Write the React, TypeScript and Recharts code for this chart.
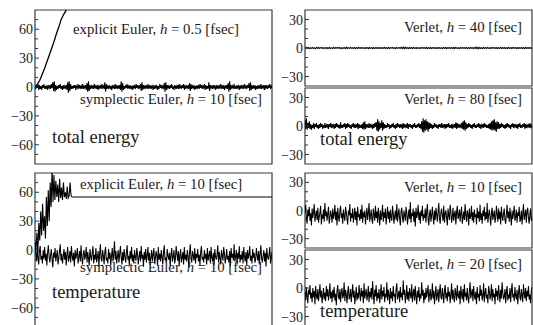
import React from 'react';
import { LineChart, Line, XAxis, YAxis, ReferenceArea } from 'recharts';

const FONT = '"Liberation Serif", "Times New Roman", serif';

// total energy, explicit Euler h=0.5 (time, value)
const explicitEnergyT = [0, 10, 20, 30, 40, 50, 60, 70, 80, 90, 100, 110, 120, 130, 140, 150];
const explicitEnergyV = [0, 3, 7, 13, 19, 26, 33, 40, 47, 55, 62, 70, 75, 79, 84, 88];

// total energy, symplectic Euler h=10
const symplecticEnergy = [
  1,-2,2,-1,3,-3,2,-2,1,-3,2,-1,3,-2,1,-2,2,-3,1,-1,
  2,-2,3,-1,5,-4,6,-5,2,-3,1,-2,2,-1,3,-2,1,-3,2,-2,
  1,-1,2,-3,5,-6,6,-4,3,-2,1,-2,2,-1,2,-3,1,-1,3,-2,
  2,-1,1,-2,3,-2,1,-1,2,-3,4,-5,6,-4,2,-2,1,-1,2,-2,
  3,-1,1,-2,2,-3,1,-1,2,-2,3,-1,1,-2,5,-5,3,-2,1,-1,
  2,-2,1,-3,2,-1,1,-2,3,-2,2,-1,1,-2,2,-3,6,-5,4,-3,
  1,-2,2,-1,3,-2,1,-1,2,-2,1,-3,2,-1,1,-2,3,-1,2,-2,
  1,-1,3,-4,5,-3,2,-2,1,-1,2,-2,3,-1,1,-2,2,-1,1,-3,
  2,-2,1,-1,2,-3,1,-2,3,-1,2,-2,1,-1,4,-5,5,-3,2,-1,
  1,-2,2,-1,3,-2,1,-3,2,-1,1,-2,2,-2,3,-1,1,-2,2,-1,
  3,-3,2,-2,1,-1,2,-2,4,-4,3,-2,1,-1,2,-3,1,-2,2,-1,
  1,-2,3,-1,2,-2,1,-1,3,-3,2,-2,1,-2,5,-4,2,-1,1,-2,
  2,-1,1,-3,2,-2,1,-1,2,-2,3,-1,1,-2,2,-3,1,-1,2,-2,
  4,-5,6,-3,2,-2,1,-1,3,-2,1,-2,2,-1,1,-3,2,-2,1,-1,
  2,-2,3,-1,1,-2,2,-1,4,-4,5,-3,2,-2,1,-1,2,-3,1,-2,
  2,-1,1,-2,3,-2,1,-1,2,-3,2,-1,1,-2,2,-1,3,-2,1,-1,
];

// temperature, explicit Euler h=10 (time, value)
const explicitTempT = [0,4,8,12,16,20,24,28,32,36,40,44,48,52,56,60,64,68,72,76,80,84,88,92,96,100,104,108,112,116,120,124,128,132,136,140,144,148,152,156,160,164,168,172,1000];
const explicitTempV = [8,0,18,-4,28,10,40,15,48,20,35,12,55,25,62,30,70,45,85,50,78,52,72,55,68,50,74,54,65,52,70,55,60,53,66,54,56,70,57,55,55,55,55,55,55];

// temperature, symplectic Euler h=10
const symplecticTemp = [
  8,-3,-12,2,-8,-15,-1,4,-10,-6,-14,0,-9,3,-11,-4,-16,-2,5,-7,
  -13,-5,1,-10,-18,-3,-8,2,-12,-6,0,-15,-9,-1,6,-11,-4,-14,-7,1,
  -10,-2,-16,-5,3,-12,-8,-1,-13,4,-6,-11,-3,-17,0,-9,-5,2,-14,-7,
  -1,-12,5,-8,-15,-4,0,-10,-6,3,-13,-2,-9,-16,1,-7,-11,-3,4,-14,
  -5,-10,2,-13,-7,-1,-17,-4,6,-9,-12,0,-6,-15,-2,3,-11,-8,-14,1,
  -9,-3,-16,-6,2,-12,-5,9,-10,-1,-14,-7,0,-13,-4,4,-8,-15,-2,-11,
  1,-7,-13,-3,5,-10,-6,-16,-1,-9,3,-12,-5,-14,0,-8,-11,2,-4,-15,
  -7,-1,-12,4,-9,-5,-17,-2,-10,1,-13,-6,3,-11,-3,-15,-8,0,-12,-5,
  2,-14,-9,-1,-6,-16,3,-10,-4,-12,0,-7,-15,-2,5,-11,-8,-13,1,-6,
  -10,-3,-17,-5,2,-12,-7,0,-14,-9,4,-4,-11,-1,-16,-6,1,-13,-8,-2,
  -15,3,-10,-5,-12,0,-7,-18,-3,6,-9,-13,-1,-6,-11,2,-14,-4,-8,1,
  -12,-5,-16,-2,4,-10,-7,-13,0,-9,-4,-15,2,-11,-6,-1,-14,3,-8,-12,
  -3,-16,1,-7,-10,-5,5,-13,-2,-9,-15,0,-6,-11,3,-4,-14,-8,1,-10,
  -6,-13,-1,-17,2,-8,-4,-11,6,-12,-7,0,-15,-3,-9,4,-13,-5,-10,-1,
  -14,3,-7,-12,-2,-16,0,-9,-5,4,-11,-6,-14,1,-8,-3,-13,-10,2,-6,
  -11,-1,-15,-4,5,-9,-13,-6,0,-12,-3,-17,2,-7,-10,-5,3,-14,-8,-2,
];

// Verlet total energy h=40
const verlet40 = [
  0.5,-0.5,0.8,-0.3,0.4,-0.7,0.3,-0.4,0.6,-0.5,0.2,-0.6,0.5,-0.3,0.7,-0.5,0.4,-0.2,0.5,-0.6,
  0.3,-0.4,0.6,-0.7,0.4,-0.3,0.5,-0.5,0.2,-0.4,0.7,-0.6,0.3,-0.2,0.5,-0.4,0.6,-0.5,0.3,-0.7,
  0.4,-0.3,0.5,-0.6,0.8,-0.5,0.3,-0.4,0.6,-0.3,0.4,-0.6,0.5,-0.4,0.3,-0.5,0.7,-0.3,0.4,-0.5,
  0.6,-0.4,0.3,-0.6,0.5,-0.3,0.4,-0.7,0.6,-0.4,0.3,-0.5,0.5,-0.6,0.4,-0.3,0.6,-0.5,0.3,-0.4,
  0.5,-0.6,0.4,-0.3,0.7,-0.5,0.3,-0.4,0.5,-0.6,0.4,-0.2,0.6,-0.5,0.3,-0.6,0.5,-0.4,0.4,-0.3,
  0.6,-0.5,0.9,-0.8,1,-0.7,0.6,-0.5,0.4,-0.6,0.5,-0.3,0.4,-0.5,0.6,-0.4,0.3,-0.5,0.5,-0.4,
  0.3,-0.6,0.5,-0.4,0.6,-0.3,0.4,-0.5,0.7,-0.6,0.3,-0.4,0.5,-0.5,0.4,-0.3,0.6,-0.6,0.4,-0.5,
  0.5,-0.3,0.4,-0.6,0.3,-0.5,0.6,-0.4,0.5,-0.7,0.4,-0.3,0.6,-0.5,0.3,-0.4,0.5,-0.6,0.7,-0.4,
  0.4,-0.5,0.3,-0.6,0.5,-0.4,0.6,-0.3,0.4,-0.5,0.6,-0.6,0.3,-0.4,0.5,-0.3,0.4,-0.6,0.5,-0.5,
  0.8,-0.7,0.6,-0.9,0.7,-0.5,0.4,-0.6,0.5,-0.3,0.4,-0.5,0.6,-0.4,0.3,-0.6,0.5,-0.4,0.6,-0.3,
  0.4,-0.5,0.5,-0.6,0.3,-0.4,0.6,-0.5,0.4,-0.3,0.5,-0.6,0.4,-0.5,0.6,-0.4,0.3,-0.5,0.5,-0.4,
  0.6,-0.3,0.4,-0.6,0.5,-0.5,0.3,-0.4,0.6,-0.5,0.4,-0.6,0.5,-0.3,0.4,-0.5,0.6,-0.4,0.3,-0.5,
];

// Verlet total energy h=80
const verlet80 = [
  6,-3,8,-4,3,-2,5,-3,2,-4,1,-2,3,-3,2,-1,3,-2,1,-3,
  2,-2,3,-1,2,-3,1,-2,3,-2,1,-1,2,-3,2,-1,3,-2,2,-1,
  1,-3,2,-2,3,-1,2,-2,1,-3,4,-2,1,-2,2,-1,3,-3,2,-2,
  3,-1,2,-2,1,-3,2,-1,3,-2,2,-2,1,-1,3,-3,2,-2,1,-2,
  2,-3,4,-4,5,-3,2,-1,1,-2,3,-2,2,-1,1,-3,2,-2,3,-1,
  4,-5,7,-6,5,-4,3,-2,6,-5,4,-3,2,-2,1,-2,3,-1,2,-3,
  1,-2,2,-1,3,-2,1,-3,2,-2,3,-1,2,-2,1,-1,2,-3,3,-2,
  2,-1,1,-2,3,-3,2,-1,2,-2,1,-3,2,-1,3,-2,1,-2,2,-1,
  3,-2,2,-3,5,-6,8,-7,6,-5,7,-4,5,-6,4,-3,3,-2,2,-3,
  1,-2,3,-1,2,-2,1,-3,2,-1,2,-2,3,-2,1,-1,2,-3,2,-2,
  2,-1,3,-2,1,-2,2,-3,1,-1,2,-2,4,-3,3,-2,2,-1,1,-2,
  3,-3,5,-4,6,-5,4,-3,2,-2,3,-1,2,-2,1,-3,2,-1,3,-2,
  1,-2,2,-1,3,-2,2,-3,1,-1,2,-2,3,-1,2,-2,1,-2,2,-3,
  3,-4,5,-5,6,-4,7,-5,4,-6,5,-3,4,-3,2,-2,3,-1,2,-2,
  1,-3,2,-2,3,-1,2,-2,1,-3,2,-1,3,-2,2,-1,1,-2,2,-3,
  2,-1,3,-2,1,-2,2,-1,3,-3,2,-2,1,-1,2,-2,3,-1,1,-2,
];

// Verlet temperature h=10
const verlet10 = [
  -2,6,-9,-14,1,-6,4,-11,-3,-16,2,-8,-1,7,-12,-5,0,-10,3,-13,
  -7,-2,5,-15,-4,-9,1,-12,8,-6,-1,-11,-3,4,-14,-8,0,-5,-13,2,
  -9,-4,6,-10,-1,-16,3,-7,-12,0,5,-8,-3,-14,1,-6,-11,4,-2,-9,
  -15,0,-5,7,-12,-3,-8,2,-13,-6,3,-10,-1,-16,4,-7,-4,-11,1,-9,
  6,-13,-2,-7,0,-15,-5,3,-10,-3,8,-12,-6,1,-9,-14,2,-4,-11,5,
  -8,-1,-13,3,-6,-16,0,-10,-4,6,-12,-2,-8,2,-15,-5,4,-9,-1,-13,
  1,-7,-11,5,-3,-14,-6,0,-10,7,-12,-4,2,-9,-16,-1,3,-8,-13,0,
  -5,-11,4,-2,-15,-7,1,-9,9,-13,-3,-6,2,-12,-1,-17,3,-8,-4,6,
  -10,-2,-14,0,-6,5,-11,-4,-8,2,-13,-1,7,-9,-16,-3,1,-12,-5,4,
  -7,-15,0,-10,3,-4,-12,-1,8,-9,-14,-2,2,-6,-11,5,-13,-3,0,-8,
  -16,2,-5,-10,6,-1,-13,-7,3,-11,-4,0,-15,-2,5,-9,-6,1,-12,-3,
  4,-14,-8,-1,-10,7,-5,-12,0,-3,-16,2,-9,-6,5,-11,-2,-13,1,-7,
  -4,-15,3,-8,-1,-12,6,-10,-3,-14,0,-6,4,-11,-2,-9,8,-13,-5,1,
  -7,-16,-2,3,-10,-5,0,-13,-8,5,-4,-12,2,-9,-1,-15,4,-6,-11,-3,
  2,-10,-14,-4,6,-8,-1,-12,3,-6,-16,0,-9,-3,5,-11,-7,1,-13,-2,
  -6,4,-12,-9,0,-15,-3,7,-10,-5,1,-13,-1,3,-8,-14,-4,2,-11,-6,
];

// Verlet temperature h=20
const verlet20 = [
  -4,-13,1,-9,-16,-2,-7,3,-11,-5,-15,0,-10,-3,-17,2,-8,-12,-1,-14,
  -6,4,-10,-3,-16,-8,0,-12,-5,-14,2,-9,-1,-13,-7,5,-11,-4,-15,-2,
  -10,1,-13,-6,-18,-3,3,-9,-12,-1,-15,-5,0,-11,-8,6,-14,-2,-7,-16,
  -4,2,-12,-9,-1,-15,-6,4,-10,-3,-17,-8,1,-13,-5,-11,3,-7,-14,0,
  -9,-3,-16,5,-11,-6,-1,-13,-8,2,-15,-4,-10,0,-12,7,-7,-17,-2,-9,
  3,-14,-5,-11,-1,-16,-7,4,-12,-3,-9,1,-15,-6,-10,6,-13,-2,-8,-17,
  0,-11,-4,-14,2,-9,-6,-16,-1,5,-12,-8,-3,-15,1,-10,-5,-13,8,-7,
  -2,-16,-9,3,-12,-4,-14,0,-7,-11,4,-15,-6,-1,-13,2,-9,-17,-3,-10,
  1,-14,-6,-11,6,-8,-2,-16,-5,-12,0,-10,-4,3,-15,-7,-1,-13,-9,5,
  -11,-3,-17,-6,2,-13,-8,-1,-15,-4,4,-10,-12,0,-7,-16,-2,3,-11,-5,
  -14,1,-9,-4,-16,-7,5,-12,-2,-10,-15,0,-6,-13,3,-8,-11,-3,-17,2,
  -7,-12,-1,-15,4,-9,-5,-13,0,-10,-16,-3,6,-11,-6,-1,-14,2,-8,-12,
  -4,-17,1,-10,-6,-14,3,-8,-2,-13,-9,5,-15,-5,0,-11,-7,-16,2,-3,
  -12,-8,4,-14,-1,-10,-6,-17,0,-9,-3,-13,3,-7,-15,-2,-11,6,-5,-12,
  -9,-1,-16,-4,2,-13,-7,-11,0,-15,-3,5,-10,-6,-14,1,-8,-12,-2,-17,
  -5,3,-10,-13,-1,-8,-15,4,-6,-11,0,-14,-3,-9,2,-12,-7,-16,-4,1,
];

const leftTicks = [-70, -60, -50, -40, -30, -20, -10, 0, 10, 20, 30, 40, 50, 60, 70];
const rightTicks = [-30, -20, -10, 0, 10, 20, 30];

const even = (vals: number[]) => vals.map((v, i) => ({ t: (i * 1000) / (vals.length - 1), v }));
const paired = (ts: number[], vs: number[]) => ts.map((t, i) => ({ t, v: vs[i] }));

const Tick = (props: any) => {
  const { x, y, payload } = props;
  const v = payload.value as number;
  const major = v % 30 === 0;
  return (
    <g>
      <line x1={x} x2={x + (major ? 4 : 3)} y1={y} y2={y} stroke="#333" strokeWidth={1} />
      {major && (
        <text x={x - 2} y={y} dy={5} textAnchor="end" fontFamily={FONT} fontSize={14} fill="#222">
          {v < 0 ? '\u2212' + Math.abs(v) : String(v)}
        </text>
      )}
    </g>
  );
};

type Series = { data: { t: number; v: number }[]; width?: number };

function Panel(p: { px: number; py: number; w: number; h: number; yMax: number; ticks: number[]; series: Series[] }) {
  const L = 35, T = 5, R = 3, B = 3;
  return (
    <div style={{ position: 'absolute', left: p.px - L, top: p.py - T }}>
      <LineChart width={L + p.w + R} height={T + p.h + B} margin={{ top: T, left: 0, right: R, bottom: B }}>
        <XAxis type="number" dataKey="t" domain={[0, 1000]} allowDataOverflow hide />
        <YAxis
          type="number"
          domain={[-p.yMax, p.yMax]}
          allowDataOverflow
          ticks={p.ticks}
          width={L}
          tickSize={0}
          tickMargin={0}
          axisLine={false}
          tickLine={false}
          interval={0}
          tick={<Tick />}
        />
        <ReferenceArea x1={0} x2={1000} y1={-p.yMax} y2={p.yMax} fill="none" stroke="#3a3a3a" strokeWidth={1.2} />
        {p.series.map((s, i) => (
          <Line
            key={i}
            data={s.data}
            dataKey="v"
            type="linear"
            stroke="#000"
            strokeWidth={s.width ?? 1.05}
            dot={false}
            isAnimationActive={false}
          />
        ))}
      </LineChart>
    </div>
  );
}

function Txt(p: { x: number; cy: number; size: number; end?: boolean; children: React.ReactNode }) {
  return (
    <div
      style={{
        position: 'absolute',
        left: p.end ? undefined : p.x,
        right: p.end ? 533 - p.x : undefined,
        top: p.cy - p.size * 0.65,
        fontSize: p.size,
        lineHeight: `${p.size * 1.2}px`,
        fontFamily: FONT,
        whiteSpace: 'nowrap',
        color: '#1a1a1a',
      }}
    >
      {p.children}
    </div>
  );
}

const H = () => <i>h</i>;
const LS = 14.8;

export default function App() {
  return (
    <div style={{ position: 'absolute', left: 0, top: 0, width: 533, height: 325, overflow: 'hidden', background: '#fff' }}>
      <Panel px={35} py={10} w={237} h={154} yMax={80} ticks={leftTicks}
        series={[{ data: even(symplecticEnergy) }, { data: paired(explicitEnergyT, explicitEnergyV), width: 1.3 }]} />
      <Panel px={35} py={173} w={237} h={154} yMax={80} ticks={leftTicks}
        series={[{ data: even(symplecticTemp) }, { data: paired(explicitTempT, explicitTempV), width: 1.1 }]} />
      <Panel px={305} py={10} w={227} h={76} yMax={40} ticks={rightTicks} series={[{ data: even(verlet40) }]} />
      <Panel px={305} py={88} w={227} h={76} yMax={40} ticks={rightTicks} series={[{ data: even(verlet80) }]} />
      <Panel px={305} py={173} w={227} h={75} yMax={40} ticks={rightTicks} series={[{ data: even(verlet10) }]} />
      <Panel px={305} py={250} w={227} h={76} yMax={40} ticks={rightTicks} series={[{ data: even(verlet20) }]} />

      <Txt x={73} cy={31} size={LS}>explicit Euler, <H /> = 0.5 [fsec]</Txt>
      <Txt x={80} cy={101} size={LS}>symplectic Euler, <H /> = 10 [fsec]</Txt>
      <Txt x={52} cy={138} size={18.5}>total energy</Txt>

      <Txt x={80} cy={186} size={LS}>explicit Euler, <H /> = 10 [fsec]</Txt>
      <Txt x={80} cy={269} size={LS}>symplectic Euler, <H /> = 10 [fsec]</Txt>
      <Txt x={52} cy={293} size={18.5}>temperature</Txt>

      <Txt x={522} cy={29} size={LS} end>Verlet, <H /> = 40 [fsec]</Txt>
      <Txt x={522} cy={101} size={LS} end>Verlet, <H /> = 80 [fsec]</Txt>
      <Txt x={320} cy={140} size={18.5}>total energy</Txt>

      <Txt x={522} cy={189} size={LS} end>Verlet, <H /> = 10 [fsec]</Txt>
      <Txt x={522} cy={266} size={LS} end>Verlet, <H /> = 20 [fsec]</Txt>
      <Txt x={320} cy={312} size={18.5}>temperature</Txt>
    </div>
  );
}
